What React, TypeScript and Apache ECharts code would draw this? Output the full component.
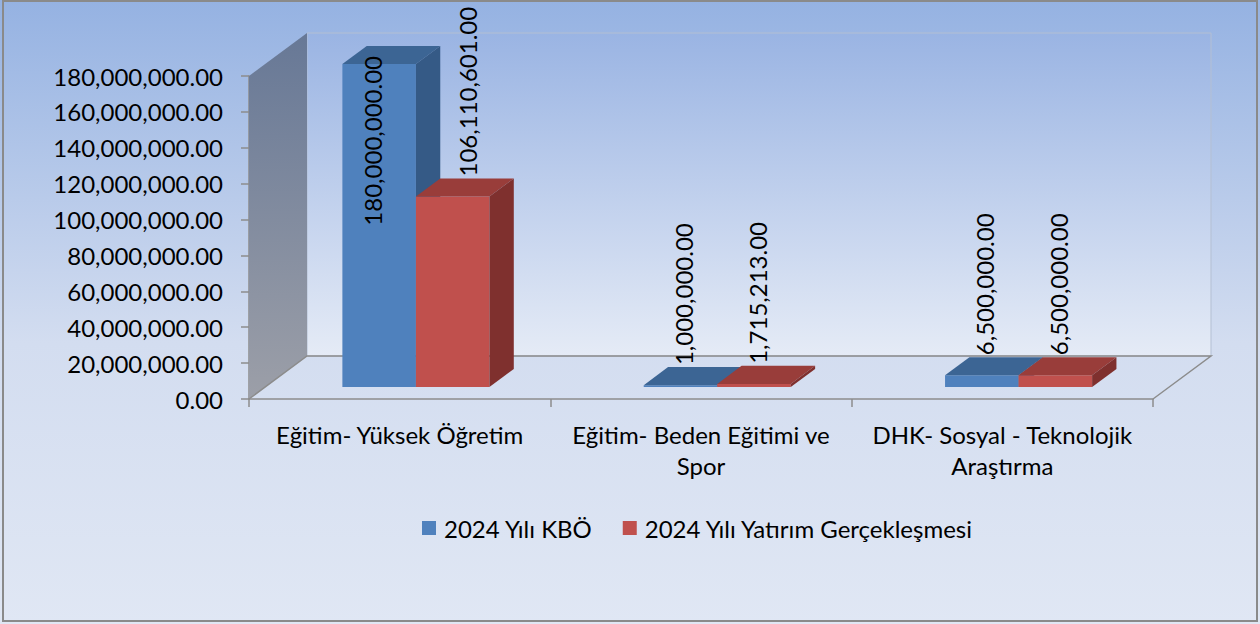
import React, { useEffect, useRef } from "react";
import * as echarts from "echarts";

const categories = [
  "Eğitim- Yüksek Öğretim",
  "Eğitim- Beden Eğitimi ve\nSpor",
  "DHK- Sosyal - Teknolojik\nAraştırma",
];
const kboValues = [180000000, 1000000, 6500000];
const gerceklesmeValues = [106110601, 1715213, 6500000];
const seriesNames = ["2024 Yılı KBÖ", "2024 Yılı Yatırım Gerçekleşmesi"];
const yMin = 0;
const yMax = 180000000;
const yInterval = 20000000;

const FONT = "Lato";
const FS = 24;
const DX = 58;
const DY = -43;
const F = 0.28;
const BD = 0.42;
const BAR_FRAC = 0.244;

const fmt = (v: number) =>
  v.toLocaleString("en-US", { minimumFractionDigits: 2, maximumFractionDigits: 2 });

let measureCtx: CanvasRenderingContext2D | null = null;
const measure = (t: string) => {
  if (!measureCtx) measureCtx = document.createElement("canvas").getContext("2d");
  if (!measureCtx) return t.length * 12;
  measureCtx.font = `${FS}px ${FONT}`;
  return measureCtx.measureText(t).width;
};

const palettes = [
  { front: "#4f81bd", top: "#3c6594", side: "#355a86" },
  { front: "#c0504d", top: "#993d3a", side: "#7f302e" },
];

function makeBarRenderer(sIdx: number) {
  const pal = palettes[sIdx];
  return (params: any, api: any) => {
    const cat = api.value(0);
    const val = api.value(1);
    const base = api.coord([cat, 0]);
    const topP = api.coord([cat, val]);
    const bw = api.size([1, 0])[0];
    const barW = bw * BAR_FRAC;
    const off = sIdx === 0 ? -barW : 0;
    const xL = base[0] + off + F * DX;
    const xR = xL + barW;
    const yB = base[1] + F * DY;
    const yT = topP[1] + F * DY;
    const bdx = BD * DX;
    const bdy = BD * DY;
    const text = fmt(val);
    const len = measure(text);
    const labelBottom = yT + bdy - 2;
    const fits = labelBottom - len >= 6;
    const cx = (xL + xR) / 2;
    const label = fits
      ? { x: cx + 3 + (val > 50000000 ? 12 : 0), y: labelBottom, align: "left" }
      : { x: cx - 7, y: yT - 8, align: "right" };
    return {
      type: "group",
      children: [
        {
          type: "polygon",
          shape: { points: [[xL, yB], [xR, yB], [xR, yT], [xL, yT]] },
          style: { fill: pal.front },
        },
        {
          type: "polygon",
          shape: { points: [[xL, yT], [xR, yT], [xR + bdx, yT + bdy], [xL + bdx, yT + bdy]] },
          style: { fill: pal.top },
        },
        {
          type: "polygon",
          shape: { points: [[xR, yB], [xR, yT], [xR + bdx, yT + bdy], [xR + bdx, yB + bdy]] },
          style: { fill: pal.side },
        },
        {
          type: "text",
          x: label.x,
          y: label.y,
          rotation: Math.PI / 2,
          z2: 10,
          style: {
            text,
            fill: "#000",
            font: `${FS}px ${FONT}`,
            align: label.align,
            verticalAlign: "middle",
          },
        },
      ],
    };
  };
}

function wallRenderer(params: any, api: any) {
  const bw = api.size([1, 0])[0];
  const p0 = api.coord([0, yMin]);
  const p2 = api.coord([categories.length - 1, yMin]);
  const pt = api.coord([0, yMax]);
  const L = p0[0] - bw / 2;
  const R = p2[0] + bw / 2;
  const B = p0[1];
  const T = pt[1];
  return {
    type: "group",
    children: [
      {
        type: "rect",
        shape: { x: L + DX, y: T + DY, width: R - L, height: B - T },
        style: {
          fill: new echarts.graphic.LinearGradient(0, 0, 0, 1, [
            { offset: 0, color: "#9ab4e3" },
            { offset: 1, color: "#e5ebf6" },
          ]),
          stroke: "#b3bfd3",
          lineWidth: 1,
        },
      },
      {
        type: "polygon",
        shape: { points: [[L, B], [L, T], [L + DX, T + DY], [L + DX, B + DY]] },
        style: {
          fill: new echarts.graphic.LinearGradient(0, 0, 0, 1, [
            { offset: 0, color: "#677896" },
            { offset: 1, color: "#9c9fa8" },
          ]),
        },
      },
      {
        type: "polyline",
        shape: { points: [[L, B], [L + DX, B + DY], [R + DX, B + DY], [R, B]] },
        style: { fill: null, stroke: "#8c8c8c", lineWidth: 1.5 },
      },
    ],
  };
}

export default function App() {
  const ref = useRef<HTMLDivElement>(null);
  useEffect(() => {
    if (!ref.current) return;
    const chart = echarts.init(ref.current, undefined, { renderer: "svg" });
    chart.setOption({
      animation: false,
      backgroundColor: new echarts.graphic.LinearGradient(0, 0, 0, 1, [
        { offset: 0, color: "#95b2e2" },
        { offset: 0.55, color: "#d3ddf0" },
        { offset: 1, color: "#e0e7f4" },
      ]),
      textStyle: { fontFamily: FONT },
      grid: { left: 249, right: 107, top: 76, bottom: 225 },
      graphic: [
        {
          type: "rect",
          shape: { x: 3, y: 1, width: 1254, height: 620 },
          style: { fill: null, stroke: "#8a8a8a", lineWidth: 2 },
          z: 100,
          silent: true,
        },
      ],
      legend: {
        left: 417,
        top: 511,
        itemWidth: 14,
        itemHeight: 14,
        itemGap: 30,
        textStyle: { fontSize: FS, color: "#000", fontFamily: FONT, padding: [0, 0, 0, 3] },
        data: seriesNames.map((n, i) => ({ name: n, icon: "rect", itemStyle: { color: palettes[i].front } })),
      },
      xAxis: {
        type: "category",
        data: categories,
        axisLine: { lineStyle: { color: "#8c8c8c", width: 1.5 } },
        axisTick: { show: true, length: 8, lineStyle: { color: "#8c8c8c", width: 1.5 } },
        axisLabel: {
          color: "#000",
          fontSize: FS,
          fontFamily: FONT,
          lineHeight: 31,
          margin: 20,
          interval: 0,
        },
      },
      yAxis: {
        type: "value",
        min: yMin,
        max: yMax,
        interval: yInterval,
        axisLine: { show: true, lineStyle: { color: "#8c8c8c", width: 1.5 } },
        axisTick: { show: true, length: 8, lineStyle: { color: "#8c8c8c", width: 1.5 } },
        splitLine: { show: false },
        axisLabel: {
          color: "#000",
          fontSize: FS,
          fontFamily: FONT,
          margin: 26,
          formatter: (v: number) => fmt(v),
        },
      },
      series: [
        {
          type: "custom",
          name: "walls",
          silent: true,
          renderItem: wallRenderer,
          data: [[0, yMin]],
          encode: { x: 0, y: 1 },
          z: 1,
        },
        {
          type: "custom",
          name: seriesNames[0],
          itemStyle: { color: palettes[0].front },
          renderItem: makeBarRenderer(0),
          data: kboValues.map((v, i) => [i, v]),
          encode: { x: 0, y: 1 },
          z: 2,
        },
        {
          type: "custom",
          name: seriesNames[1],
          itemStyle: { color: palettes[1].front },
          renderItem: makeBarRenderer(1),
          data: gerceklesmeValues.map((v, i) => [i, v]),
          encode: { x: 0, y: 1 },
          z: 3,
        },
      ],
    });
    return () => chart.dispose();
  }, []);
  return (
    <div
      ref={ref}
      style={{ position: "absolute", left: 0, top: 0, width: 1260, height: 624 }}
    />
  );
}
